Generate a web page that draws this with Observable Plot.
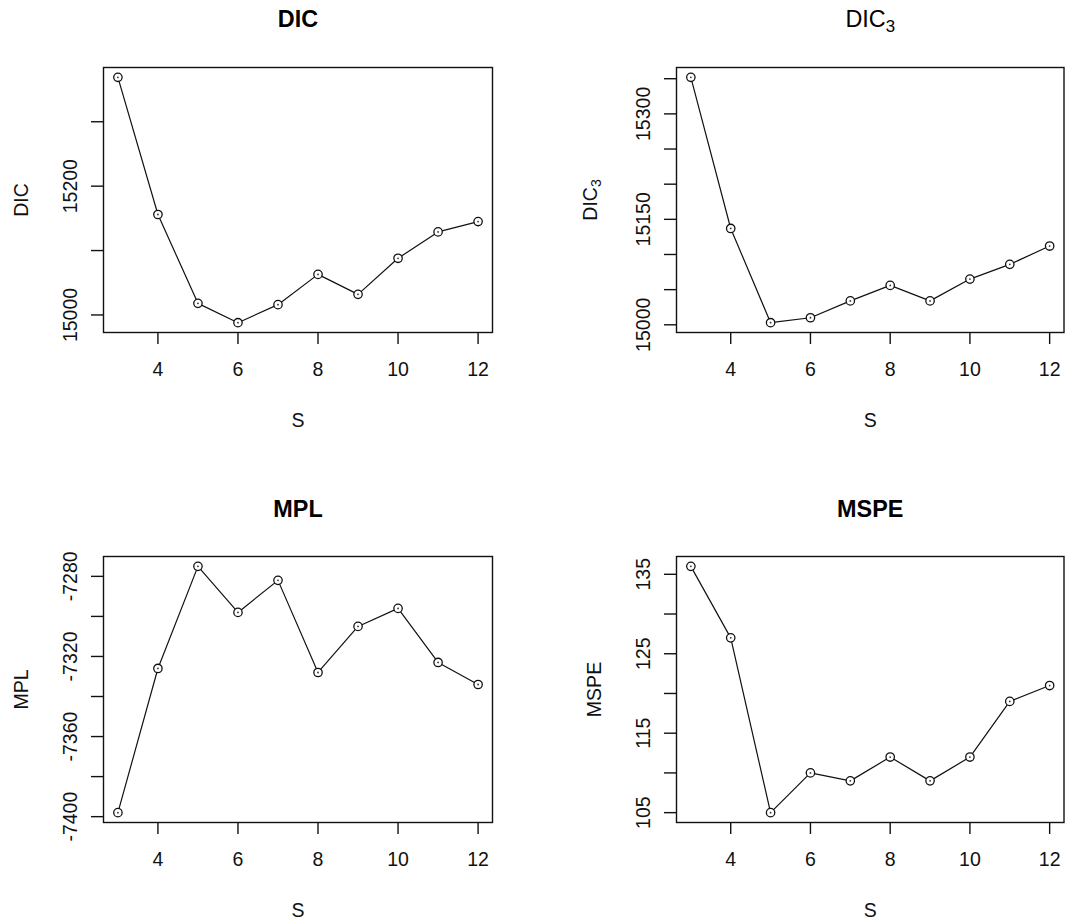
<!DOCTYPE html>
<html>
<head>
<meta charset="utf-8">
<script src="https://cdn.jsdelivr.net/npm/d3@7"></script>
<script src="https://cdn.jsdelivr.net/npm/@observablehq/plot@0.6"></script>
<style>
  html, body { margin: 0; padding: 0; background: #fff; }
  #wrap { position: relative; width: 1065px; height: 924px; overflow: hidden; background: #fff; }
  .panel { position: absolute; }
</style>
</head>
<body>
<div id="wrap"></div>
<script>
// ---- data ----
const S = [3, 4, 5, 6, 7, 8, 9, 10, 11, 12];
const dicValues  = [15369, 15156, 15018, 14988, 15016, 15063, 15032, 15088, 15129, 15145];
const dic3Values = [15352, 15137, 15003, 15010, 15034, 15056, 15034, 15065, 15086, 15112];
const mplValues  = [-7398, -7326, -7275, -7298, -7282, -7328, -7305, -7296, -7323, -7334];
const mspeValues = [136, 127, 105, 110, 109, 112, 109, 112, 119, 121];

const xTicks = [4, 6, 8, 10, 12];
const dicTicks  = [15000, 15100, 15200, 15300];
const dicLabels = [15000, 15200];
const dic3Ticks  = [15000, 15050, 15100, 15150, 15200, 15250, 15300, 15350];
const dic3Labels = [15000, 15150, 15300];
const mplTicks  = [-7400, -7380, -7360, -7340, -7320, -7300, -7280];
const mplLabels = [-7400, -7360, -7320, -7280];
const mspeTicks  = [105, 110, 115, 120, 125, 130, 135];
const mspeLabels = [105, 115, 125, 135];

const titles = ["DIC", "DIC_3", "MPL", "MSPE"];
const yLabels = ["DIC", "DIC_3", "MPL", "MSPE"];
const xLabel = "S";

// ---- layout ----
const FONT = "'Liberation Sans', Arial, Helvetica, sans-serif";
const INK = "#111";
const FS = 19.5;
const panels = [
  {values: dicValues,  ticks: dicTicks,  labels: dicLabels,  title: titles[0], bold: true,  ylab: yLabels[0],
   left: 0,   top: 0,   width: 532, height: 462, mt: 67, mb: 130, ml: 103, mr: 40,  titleDy: -41, ylabDx: -76},
  {values: dic3Values, ticks: dic3Ticks, labels: dic3Labels, title: titles[1], bold: false, ylab: yLabels[1],
   left: 532, top: 0,   width: 533, height: 462, mt: 67, mb: 130, ml: 144, mr: 1.5, titleDy: -41, ylabDx: -80},
  {values: mplValues,  ticks: mplTicks,  labels: mplLabels,  title: titles[2], bold: true,  ylab: yLabels[2],
   left: 0,   top: 462, width: 532, height: 462, mt: 94, mb: 102, ml: 103, mr: 40,  titleDy: -40, ylabDx: -76},
  {values: mspeValues, ticks: mspeTicks, labels: mspeLabels, title: titles[3], bold: true,  ylab: yLabels[3],
   left: 532, top: 462, width: 533, height: 462, mt: 94, mb: 102, ml: 144, mr: 1.5, titleDy: -40, ylabDx: -76}
];

function rDomain(arr) {
  const lo = d3.min(arr), hi = d3.max(arr), r = hi - lo;
  return [lo - 0.04 * r, hi + 0.04 * r];
}

function subscriptify(svg) {
  d3.select(svg).selectAll("text").each(function () {
    const t = this.textContent;
    if (this.childElementCount === 0 && /_\d$/.test(t)) {
      const [base, sub] = t.split("_");
      this.textContent = base;
      const ts = document.createElementNS("http://www.w3.org/2000/svg", "tspan");
      ts.setAttribute("dy", "0.3em");
      ts.setAttribute("font-size", "0.72em");
      ts.textContent = sub;
      this.appendChild(ts);
    }
  });
}

const wrap = document.getElementById("wrap");
for (const p of panels) {
  const data = S.map((s, i) => ({s, v: p.values[i]}));
  const chart = Plot.plot({
    width: p.width,
    height: p.height,
    marginTop: p.mt,
    marginBottom: p.mb,
    marginLeft: p.ml,
    marginRight: p.mr,
    style: {fontFamily: FONT, fontSize: FS + "px", background: "#fff", color: INK, overflow: "visible"},
    x: {domain: rDomain(S)},
    y: {domain: rDomain(p.values)},
    marks: [
      Plot.frame({stroke: INK, strokeWidth: 1.4}),
      Plot.axisX({ticks: xTicks, tickSize: 12, tickPadding: 18, label: null, stroke: INK, strokeWidth: 1.4,
                  tickFormat: d => String(d), fill: INK, fontSize: FS}),
      Plot.axisY({ticks: p.ticks, tickSize: 12, tickPadding: 15, tickRotate: -90, label: null, stroke: INK,
                  strokeWidth: 1.4, fill: INK, fontSize: FS,
                  tickFormat: d => p.labels.includes(d) ? String(d) : ""}),
      Plot.line(data, {x: "s", y: "v", stroke: INK, strokeWidth: 1.2}),
      Plot.dot(data, {x: "s", y: "v", r: 4.2, stroke: INK, strokeWidth: 1.3, fill: "#fff"}),
      Plot.dot(data, {x: "s", y: "v", r: 0.9, fill: "#333"}),
      Plot.text([p.title], {frameAnchor: "top", dy: p.titleDy, lineAnchor: "bottom", textAnchor: "middle",
                            fontSize: 23.4, fontWeight: p.bold ? "bold" : "normal", fill: "#000"}),
      Plot.text([xLabel], {frameAnchor: "bottom", dy: 94, lineAnchor: "bottom", textAnchor: "middle",
                           fill: INK, fontSize: FS}),
      Plot.text([p.ylab], {frameAnchor: "left", dx: p.ylabDx, rotate: -90, lineAnchor: "bottom",
                           textAnchor: "middle", fill: INK, fontSize: FS})
    ]
  });
  subscriptify(chart);
  const div = document.createElement("div");
  div.className = "panel";
  div.style.left = p.left + "px";
  div.style.top = p.top + "px";
  div.appendChild(chart);
  wrap.appendChild(div);
}
</script>
</body>
</html>
